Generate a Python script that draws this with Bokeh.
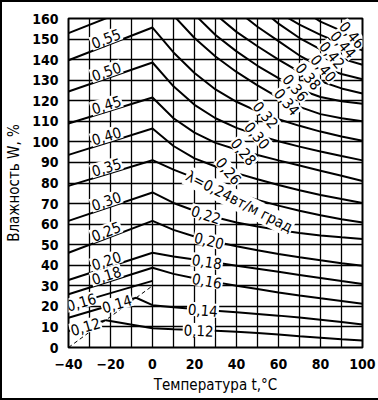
import math
import numpy as np
from bokeh.plotting import figure
from bokeh.models import ColumnDataSource, Range1d, FixedTicker
from bokeh.core.properties import value
from bokeh.embed import file_html
from bokeh.resources import INLINE

# ---------------- data ----------------
x_ticks = [-40, -20, 0, 20, 40, 60, 80, 100]
y_ticks = list(range(0, 161, 10))

# frozen region: straight lines from t=-40 to the kink
left_names = ["0,12", "0,14", "0,16", "0,18", "0,20", "0,25", "0,30", "0,35", "0,40", "0,45", "0,50", "0,55", ""]
left_w_start = [8.0, 14.5, 20.5, 25.9, 32.8, 46.1, 61.6, 78.6, 93.7, 108.9, 124.5, 139.7, 152.9]
left_t_end = [-22.2, -7.8, 0.0, 0.0, 0.0, 0.0, 0.0, 0.0, 0.0, 0.0, 0.0, 0.0, 0.0]
left_w_end = [13.3, 24.2, 32.4, 38.8, 46.1, 61.6, 75.4, 91.1, 106.5, 121.6, 138.6, 155.6, 169.0]

# dashed boundary
dash_t = [-40, 0]
dash_w = [0, 30]

# thawed region curves
t_grid = [0, 10, 20, 30, 40, 50, 60, 70, 80, 90, 100]
right_names = ["0,12", "0,14", "0,16", "0,18", "0,20", "0,22", "0,24", "0,26", "0,28",
               "0,30", "0,32", "0,34", "0,36", "0,38", "0,40", "0,42", "0,44", "0,46"]
w_012 = [9.4, 8.9, 8.5, 8.1, 7.6, 7.0, 6.3, 5.5, 4.8, 4.0, 3.4]
w_014 = [20.6, 19.6, 18.7, 17.9, 17.1, 16.3, 15.5, 14.6, 13.5, 12.4, 11.2]
w_016 = [38.8, 35.8, 33.7, 31.8, 30.0, 28.4, 26.8, 25.3, 23.9, 22.6, 21.3]
w_018 = [46.1, 44.3, 42.8, 41.3, 39.8, 38.3, 36.8, 35.3, 33.8, 32.3, 30.9]
w_020 = [61.6, 57.2, 54.0, 51.4, 49.2, 47.3, 45.5, 43.9, 42.4, 41.0, 39.7]
w_022 = [75.4, 70.3, 66.5, 63.3, 60.8, 58.8, 57.1, 55.7, 54.5, 53.6, 52.8]
w_024 = [91.1, 86.5, 82.5, 78.5, 75.0, 71.8, 69.0, 66.5, 64.3, 62.4, 60.8]
w_026 = [106.5, 98.0, 92.0, 88.0, 84.8, 81.8, 79.0, 76.5, 74.2, 72.2, 70.3]
w_028 = [121.6, 111.5, 104.5, 99.5, 96.3, 93.6, 91.0, 88.5, 86.0, 83.5, 81.0]
w_030 = [138.6, 127.0, 118.0, 111.5, 106.8, 103.3, 100.3, 97.7, 95.3, 93.1, 91.0]
w_032 = [155.6, 143.5, 133.5, 125.5, 119.5, 114.8, 111.0, 107.8, 105.0, 102.6, 100.5]
w_034 = [175.0, 161.5, 150.5, 141.5, 134.0, 127.5, 121.5, 117.0, 113.5, 111.5, 110.0]
w_036 = [192.0, 175.0, 162.0, 152.0, 144.0, 137.0, 131.0, 125.5, 121.8, 119.8, 118.5]
w_038 = [205.0, 189.0, 174.5, 162.0, 153.5, 146.5, 140.0, 134.0, 129.5, 126.0, 123.5]
w_040 = [218.0, 202.0, 187.0, 174.0, 164.0, 156.0, 149.0, 142.0, 136.5, 133.0, 130.5]
w_042 = [230.0, 215.0, 200.0, 187.0, 176.0, 166.0, 157.5, 150.5, 145.0, 140.5, 137.5]
w_044 = [242.0, 227.0, 212.0, 198.0, 186.0, 175.0, 163.0, 157.0, 152.0, 147.8, 144.5]
w_046 = [254.0, 239.0, 224.0, 210.0, 197.0, 185.0, 173.0, 165.0, 158.5, 154.0, 150.5]
right_w = [w_012, w_014, w_016, w_018, w_020, w_022, w_024, w_026, w_028,
           w_030, w_032, w_034, w_036, w_038, w_040, w_042, w_044, w_046]
# t at which each curve carries its label
right_label_t = [22.0, 24.0, 26.0, 26.0, 27.0, 25.5, 16.0, 36.4, 43.6,
                 50.0, 54.0, 64.2, 68.2, 74.4, 81.6, 85.7, 91.0, 95.2]

# ---------------- figure ----------------
X0, X1, Y0, Y1 = -40, 100, 0, 160
FW, FH = 294, 329
p = figure(width=374, height=396, frame_width=FW, frame_height=FH,
           x_range=Range1d(X0, X1), y_range=Range1d(Y0, Y1),
           output_backend="svg", toolbar_location=None,
           min_border_left=61, min_border_right=19, min_border_top=16, min_border_bottom=51)
p.background_fill_color = "white"
p.border_fill_color = "white"
p.outline_line_color = "black"
p.outline_line_width = 2
p.styles = {"border": "2px solid black"}

sx = FW / (X1 - X0)
sy = FH / (Y1 - Y0)

FONT = "DejaVu Sans Condensed"
for ax in (p.xaxis[0], p.yaxis[0]):
    ax.axis_line_color = None
    ax.major_tick_line_color = None
    ax.minor_tick_line_color = None
    ax.major_label_text_font = FONT
    ax.major_label_text_font_size = "14px"
    ax.major_label_text_font_style = "bold"
    ax.major_label_text_color = "black"
    ax.axis_label_text_font = FONT
    ax.axis_label_text_font_size = "15px"
    ax.axis_label_text_font_style = "normal"
    ax.axis_label_text_color = "black"
p.xaxis.ticker = FixedTicker(ticks=x_ticks)
p.yaxis.ticker = FixedTicker(ticks=y_ticks)
p.xaxis.major_label_standoff = 5
p.yaxis.major_label_standoff = 4
p.xaxis.axis_label = "Температура t,°C"
p.yaxis.axis_label = "Влажность W, %"
p.xaxis.axis_label_standoff = 4
p.yaxis.axis_label_standoff = 6

p.xgrid.ticker = FixedTicker(ticks=list(range(-40, 101, 10)))
p.ygrid.ticker = FixedTicker(ticks=list(range(0, 161, 10)))
for g in (p.xgrid[0], p.ygrid[0]):
    g.grid_line_color = "black"
    g.grid_line_width = 1.3
    g.grid_line_alpha = 1.0

LW = 2.0
for i, nm in enumerate(left_names):
    p.line([-40, left_t_end[i]], [left_w_start[i], left_w_end[i]],
           line_color="black", line_width=LW)
for i, ws in enumerate(right_w):
    if i < 2:  # curves that begin on the dashed boundary
        xs = [left_t_end[i]] + t_grid
        ys = [left_w_end[i]] + list(ws)
    else:
        xs, ys = t_grid, ws
    p.line(xs, ys, line_color="black", line_width=LW)
p.line(dash_t, dash_w, line_color="black", line_width=1, line_dash="4 3")

# labels on frozen lines
lx, ly, lang, ltxt, lbase = [], [], [], [], []
for i, nm in enumerate(left_names):
    if not nm:
        continue
    t0, t1 = -40, left_t_end[i]
    w0, w1 = left_w_start[i], left_w_end[i]
    if i == 0:
        tl = -32
    elif i == 1:
        tl = -17
    elif i == 2:
        tl = -34
    else:
        tl = -21
    wl = w0 + (w1 - w0) * (tl - t0) / (t1 - t0)
    ang = math.atan2((w1 - w0) * sy, (t1 - t0) * sx)
    lx.append(tl); ly.append(wl); lang.append(ang); ltxt.append(nm)
    lbase.append("middle" if i < 3 else "bottom")
src_l = ColumnDataSource(dict(x=lx, y=ly, a=lang, t=ltxt, b=lbase))
p.text("x", "y", text="t", angle="a", source=src_l, text_font=value(FONT),
       text_font_size="15px", text_align="center", text_baseline="b",
       text_color="black", background_fill_color="white", padding=1)

# labels on thawed curves
rot_upper = math.radians(-50)
rx, ry, rang, rtxt, ralign = [], [], [], [], []
for i, nm in enumerate(right_names):
    tl = right_label_t[i]
    ws = right_w[i]
    wl = float(np.interp(tl, t_grid, ws))
    w_a = float(np.interp(tl - 4, t_grid, ws)); w_b = float(np.interp(tl + 4, t_grid, ws))
    ang = math.atan2((w_b - w_a) * sy, 8 * sx)
    if nm == "0,24":
        txt = "λ=0,24вт/м град"
        ang = math.radians(-27)
        ralign.append("left")
    else:
        txt = nm
        ralign.append("center")
        if i >= 7:
            ang = rot_upper
    rx.append(tl); ry.append(wl); rang.append(ang); rtxt.append(txt)
src_r = ColumnDataSource(dict(x=rx, y=ry, a=rang, t=rtxt, al=ralign))
p.text("x", "y", text="t", angle="a", source=src_r, text_font=value(FONT),
       text_font_size="15px", text_align="al", text_baseline="middle",
       text_color="black", background_fill_color="white", padding=1)

open("out.html", "w").write(file_html(p, INLINE))
